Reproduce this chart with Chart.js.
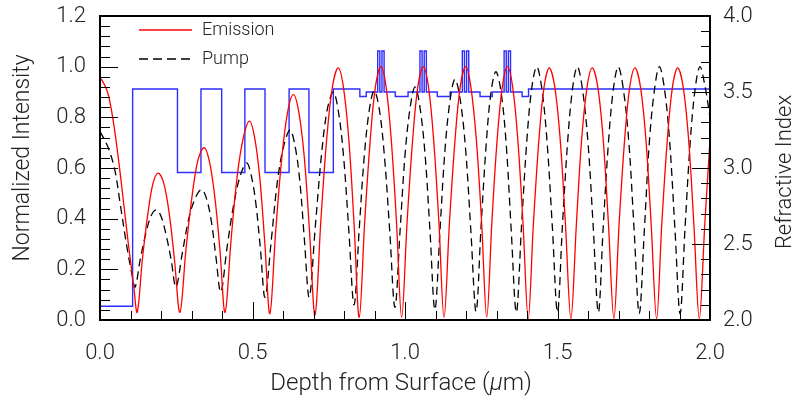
<!DOCTYPE html>
<html>
<head>
<meta charset="utf-8">
<script src="https://cdn.jsdelivr.net/npm/chart.js@4.4.1/dist/chart.umd.min.js"></script>
<style>
  html, body { margin: 0; padding: 0; background: #fff; }
  #wrap { width: 797px; height: 405px; }
</style>
</head>
<body>
<div id="wrap"><canvas id="chart" width="797" height="405"></canvas></div>
<script>
// depth in um
const emissionX = [0, 0.005, 0.027, 0.049, 0.071, 0.093, 0.11, 0.122,
  0.139, 0.157, 0.174, 0.191, 0.209, 0.227, 0.244, 0.262,
  0.282, 0.302, 0.321, 0.341, 0.358, 0.376, 0.393, 0.41,
  0.43, 0.45, 0.47, 0.49, 0.507, 0.524, 0.54, 0.557,
  0.576, 0.596, 0.615, 0.634, 0.652, 0.67, 0.687, 0.705,
  0.724, 0.743, 0.762, 0.781, 0.798, 0.816, 0.833, 0.85,
  0.868, 0.886, 0.903, 0.921, 0.938, 0.955, 0.972, 0.989,
  1.007, 1.025, 1.042, 1.06, 1.077, 1.094, 1.111, 1.128,
  1.146, 1.164, 1.181, 1.199, 1.216, 1.234, 1.251, 1.268,
  1.285, 1.302, 1.319, 1.336, 1.353, 1.37, 1.387, 1.404,
  1.421, 1.439, 1.456, 1.473, 1.491, 1.509, 1.526, 1.544,
  1.562, 1.579, 1.597, 1.614, 1.632, 1.65, 1.667, 1.685,
  1.702, 1.72, 1.737, 1.754, 1.772, 1.79, 1.807, 1.825,
  1.842, 1.86, 1.877, 1.894, 1.912, 1.93, 1.947, 1.965,
  1.983, 2.0];
const emission = [0.945, 0.95, 0.89, 0.74, 0.53, 0.30, 0.14, 0.03,
  0.24, 0.42, 0.54, 0.58, 0.54, 0.42, 0.24, 0.03,
  0.28, 0.49, 0.63, 0.68, 0.63, 0.49, 0.28, 0.03,
  0.32, 0.57, 0.72, 0.785, 0.72, 0.56, 0.31, 0.025,
  0.35, 0.64, 0.82, 0.89, 0.82, 0.64, 0.35, 0.02,
  0.39, 0.71, 0.92, 0.995, 0.92, 0.71, 0.38, 0.01,
  0.39, 0.71, 0.92, 1.0, 0.92, 0.71, 0.39, 0.01,
  0.39, 0.71, 0.92, 1.0, 0.92, 0.71, 0.39, 0.01,
  0.39, 0.71, 0.92, 1.0, 0.92, 0.71, 0.39, 0.01,
  0.39, 0.71, 0.92, 1.0, 0.92, 0.71, 0.38, 0.005,
  0.38, 0.71, 0.92, 0.995, 0.92, 0.71, 0.38, 0.005,
  0.38, 0.71, 0.92, 0.995, 0.92, 0.71, 0.38, 0.005,
  0.38, 0.71, 0.92, 0.995, 0.92, 0.71, 0.38, 0.005,
  0.38, 0.71, 0.92, 0.995, 0.92, 0.71, 0.38, 0.005,
  0.38, 0.71];

const pumpX = [0, 0.027, 0.049, 0.066, 0.088, 0.104, 0.115,
  0.132, 0.15, 0.167, 0.184, 0.2, 0.216, 0.233, 0.249,
  0.27, 0.291, 0.312, 0.333, 0.349, 0.365, 0.38, 0.396,
  0.417, 0.439, 0.46, 0.481, 0.496, 0.511, 0.526, 0.541,
  0.562, 0.582, 0.603, 0.623, 0.639, 0.655, 0.67, 0.686,
  0.706, 0.726, 0.745, 0.765, 0.782, 0.799, 0.816, 0.833,
  0.85, 0.866, 0.883, 0.899, 0.916, 0.933, 0.95, 0.967,
  0.984, 1.0, 1.017, 1.033, 1.049, 1.066, 1.082, 1.098,
  1.115, 1.131, 1.148, 1.164, 1.181, 1.199, 1.216, 1.233,
  1.249, 1.266, 1.282, 1.298, 1.315, 1.332, 1.348, 1.365,
  1.382, 1.399, 1.415, 1.432, 1.449, 1.466, 1.483, 1.5,
  1.516, 1.533, 1.549, 1.565, 1.582, 1.6, 1.617, 1.634,
  1.65, 1.667, 1.683, 1.699, 1.716, 1.734, 1.751, 1.768,
  1.785, 1.801, 1.818, 1.834, 1.851, 1.868, 1.885, 1.902,
  1.918, 1.935, 1.951, 1.967, 1.984, 2.0];
const pump = [0.745, 0.68, 0.59, 0.46, 0.29, 0.185, 0.13,
  0.24, 0.34, 0.41, 0.435, 0.41, 0.34, 0.24, 0.13,
  0.265, 0.40, 0.48, 0.515, 0.48, 0.39, 0.25, 0.11,
  0.29, 0.46, 0.57, 0.62, 0.57, 0.46, 0.28, 0.09,
  0.32, 0.55, 0.69, 0.75, 0.69, 0.55, 0.32, 0.09,
  0.37, 0.65, 0.83, 0.90, 0.82, 0.64, 0.35, 0.06,
  0.36, 0.64, 0.83, 0.905, 0.83, 0.64, 0.35, 0.05,
  0.355, 0.65, 0.84, 0.92, 0.84, 0.65, 0.35, 0.04,
  0.36, 0.67, 0.87, 0.95, 0.87, 0.67, 0.35, 0.033,
  0.36, 0.69, 0.90, 0.98, 0.90, 0.69, 0.36, 0.03,
  0.37, 0.70, 0.91, 1.0, 0.91, 0.70, 0.37, 0.03,
  0.37, 0.70, 0.91, 1.0, 0.91, 0.70, 0.37, 0.03,
  0.37, 0.70, 0.91, 1.0, 0.91, 0.70, 0.36, 0.025,
  0.36, 0.70, 0.91, 1.0, 0.91, 0.70, 0.36, 0.025,
  0.36, 0.70, 0.91, 1.0, 0.92, 0.8];

// refractive index profile: each value holds until the next depth
const indexX = [0, 0.107, 0.254, 0.331, 0.399, 0.475, 0.541, 0.620, 0.685, 0.765, 0.852, 0.873,
  0.9105, 0.9175, 0.9245, 0.9315, 0.968, 1.010,
  1.049, 1.056, 1.063, 1.070, 1.106, 1.148,
  1.188, 1.195, 1.202, 1.209, 1.246, 1.286,
  1.325, 1.332, 1.339, 1.346, 1.384, 1.405, 2.0];
const indexN = [2.09, 3.52, 2.97, 3.52, 2.97, 3.52, 2.97, 3.52, 2.97, 3.52, 3.47, 3.50,
  3.77, 3.50, 3.77, 3.50, 3.47, 3.50,
  3.77, 3.50, 3.77, 3.50, 3.47, 3.50,
  3.77, 3.50, 3.77, 3.50, 3.47, 3.50,
  3.77, 3.50, 3.77, 3.50, 3.47, 3.52, 3.52];

const xTicks = [0.0, 0.5, 1.0, 1.5, 2.0];
const yTicks = [0.0, 0.2, 0.4, 0.6, 0.8, 1.0, 1.2];
const y2Ticks = [2.0, 2.5, 3.0, 3.5, 4.0];

const FONT = 'Roboto, "Liberation Sans", sans-serif';

function toPoints(xs, ys) {
  return xs.map((x, i) => ({ x: x, y: ys[i] }));
}

function setTicks(list) {
  return scale => { scale.ticks = list.map(v => ({ value: v })); };
}

// ticks drawn inside the frame, 4 minor ticks between labels
const frameAndTicks = {
  id: 'frameAndTicks',
  afterDraw(chart) {
    const ctx = chart.ctx;
    const a = chart.chartArea;
    const sx = chart.scales.x, sy = chart.scales.y, sy2 = chart.scales.y2;
    ctx.save();
    ctx.strokeStyle = '#000';
    ctx.lineWidth = 1;
    ctx.beginPath();
    function minor(list, cb) {
      for (let i = 0; i < list.length - 1; i++) {
        const step = (list[i + 1] - list[i]) / 5;
        for (let k = 0; k < 5; k++) cb(list[i] + k * step, k === 0);
      }
      cb(list[list.length - 1], true);
    }
    minor(yTicks, (v, major) => {
      const y = Math.round(sy.getPixelForValue(v)) + 0.5;
      ctx.moveTo(a.left, y); ctx.lineTo(a.left + (major ? 18 : 10), y);
    });
    minor(xTicks, (v, major) => {
      const x = Math.round(sx.getPixelForValue(v)) + 0.5;
      ctx.moveTo(x, a.bottom); ctx.lineTo(x, a.bottom - (major ? 18 : 9));
    });
    minor(y2Ticks, (v, major) => {
      const y = Math.round(sy2.getPixelForValue(v)) + 0.5;
      ctx.moveTo(a.right, y); ctx.lineTo(a.right - (major ? 18 : 9), y);
    });
    ctx.stroke();
    ctx.lineWidth = 2;
    ctx.strokeRect(a.left, a.top, a.right - a.left, a.bottom - a.top);

    // legend
    ctx.font = '300 18px ' + FONT;
    ctx.fillStyle = '#222';
    ctx.textAlign = 'left';
    ctx.textBaseline = 'middle';
    ctx.lineWidth = 1.3;
    ctx.strokeStyle = '#ff0000';
    ctx.beginPath(); ctx.moveTo(139, 30); ctx.lineTo(192, 30); ctx.stroke();
    ctx.fillText('Emission', 202, 30);
    ctx.strokeStyle = '#000';
    ctx.setLineDash([9, 5]);
    ctx.beginPath(); ctx.moveTo(139, 59); ctx.lineTo(192, 59); ctx.stroke();
    ctx.setLineDash([]);
    ctx.fillText('Pump', 202, 59);

    // axis titles
    ctx.textAlign = 'center';
    ctx.save();
    ctx.font = '300 23px ' + FONT;
    ctx.translate(23, 158); ctx.rotate(-Math.PI / 2);
    ctx.fillText('Normalized Intensity', 0, 0);
    ctx.restore();
    ctx.save();
    ctx.font = '300 22px ' + FONT;
    ctx.translate(785, 172); ctx.rotate(-Math.PI / 2);
    ctx.fillText('Refractive Index', 0, 0);
    ctx.restore();

    const parts = [['Depth from Surface (', '300 24px '], ['\u00b5', 'italic 300 24px '], ['m)', '300 24px ']];
    let total = 0;
    parts.forEach(p => { ctx.font = p[1] + FONT; total += ctx.measureText(p[0]).width; });
    let x = 401 - total / 2;
    ctx.textAlign = 'left';
    parts.forEach(p => {
      ctx.font = p[1] + FONT;
      ctx.fillText(p[0], x, 384);
      x += ctx.measureText(p[0]).width;
    });
    ctx.restore();
  }
};

const tickFont = { family: FONT, size: 22, weight: '300' };

function noOverhangV(width) {
  return s => { s.width = width; s.paddingTop = 0; s.paddingBottom = 0; };
}

new Chart(document.getElementById('chart'), {
  type: 'line',
  data: {
    datasets: [
      {
        label: 'Emission',
        data: toPoints(emissionX, emission),
        yAxisID: 'y',
        borderColor: '#ff0000',
        borderWidth: 1.3,
        pointRadius: 0,
        tension: 0.35,
        order: 1
      },
      {
        label: 'Pump',
        data: toPoints(pumpX, pump),
        yAxisID: 'y',
        borderColor: '#000000',
        borderWidth: 1.3,
        borderDash: [8, 5],
        pointRadius: 0,
        tension: 0.35,
        order: 2
      },
      {
        label: 'Refractive Index',
        data: toPoints(indexX, indexN),
        yAxisID: 'y2',
        borderColor: 'rgb(45,45,255)',
        borderWidth: 1.4,
        pointRadius: 0,
        stepped: 'before',
        order: 3
      }
    ]
  },
  options: {
    responsive: false,
    animation: false,
    layout: { padding: { top: 16, left: 0, right: 0, bottom: 0 } },
    plugins: { legend: { display: false }, tooltip: { enabled: false } },
    scales: {
      x: {
        type: 'linear', min: 0, max: 2,
        grid: { display: false, drawTicks: false },
        border: { display: false },
        afterBuildTicks: setTicks(xTicks),
        afterFit: s => { s.height = 85; s.paddingLeft = 0; s.paddingRight = 0; },
        ticks: { font: tickFont, color: '#222', padding: 20, maxRotation: 0,
          callback: v => v.toFixed(1) }
      },
      y: {
        type: 'linear', position: 'left', min: 0, max: 1.2,
        grid: { display: false, drawTicks: false },
        border: { display: false },
        afterBuildTicks: setTicks(yTicks),
        afterFit: noOverhangV(100),
        ticks: { font: tickFont, color: '#222', padding: 14,
          callback: v => v.toFixed(1) }
      },
      y2: {
        type: 'linear', position: 'right', min: 2, max: 4,
        grid: { display: false, drawTicks: false },
        border: { display: false },
        afterBuildTicks: setTicks(y2Ticks),
        afterFit: noOverhangV(87),
        ticks: { font: tickFont, color: '#222', padding: 13,
          callback: v => v.toFixed(1) }
      }
    }
  },
  plugins: [frameAndTicks]
});
</script>
</body>
</html>
